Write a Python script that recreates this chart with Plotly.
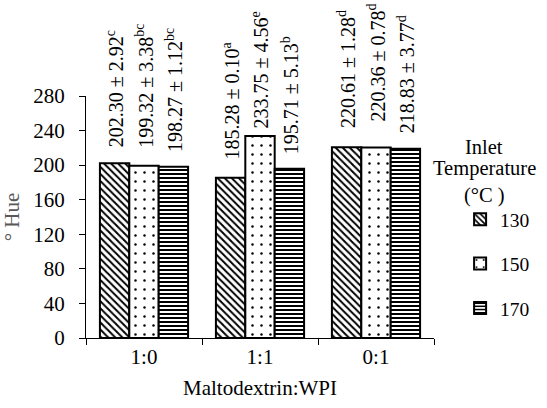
import plotly.graph_objects as go

categories = ["1:0", "1:1", "0:1"]
temperatures = ["130", "150", "170"]
hue_130 = [202.30, 185.28, 220.61]
hue_150 = [199.32, 233.75, 220.36]
hue_170 = [198.27, 195.71, 218.83]
sd_130 = [2.92, 0.10, 1.28]
sd_150 = [3.38, 4.56, 0.78]
sd_170 = [1.12, 5.13, 3.77]
letters_130 = ["c", "a", "d"]
letters_150 = ["bc", "e", "d"]
letters_170 = ["bc", "b", "d"]
legend_title_lines = ["Inlet", "Temperature", "(°C )"]

values = [hue_130, hue_150, hue_170]
sds = [sd_130, sd_150, sd_170]
letters = [letters_130, letters_150, letters_170]

# style: pattern per temperature, label pixel lift per bar
patterns = [dict(shape="\\", size=5, solidity=0.4),
            dict(shape=".", size=9, solidity=0.06),
            dict(shape="-", size=4, solidity=0.5)]
label_lift = [[14, 16, 17], [16, 5, 24], [13, 13, 14]]
legend_title_y = [0.79, 0.70, 0.59]

FONT = "Liberation Serif, Times New Roman, serif"
bargap = 0.24

fig = go.Figure()
for ti, t in enumerate(temperatures):
    p = patterns[ti]
    fig.add_trace(go.Bar(
        x=categories, y=values[ti], name=t, legendgroup=t,
        marker=dict(color="white", line=dict(color="black", width=2),
                    pattern=dict(shape=p["shape"], size=p["size"], solidity=p["solidity"],
                                 fgcolor="black", bgcolor="white", fgopacity=1,
                                 fillmode="overlay")),
    ))

bar_w = (1 - bargap) / 3
for ti in range(3):
    for ci in range(3):
        v = values[ti][ci]
        fig.add_annotation(
            x=ci + (ti - 1) * bar_w, y=v, xref="x", yref="y",
            text=f"{v:.2f} ± {sds[ti][ci]:.2f}<sup>{letters[ti][ci]}</sup>",
            textangle=-90, showarrow=False, yanchor="bottom", xanchor="center",
            yshift=label_lift[ti][ci], font=dict(family=FONT, size=20, color="black"),
        )

for line, ly in zip(legend_title_lines, legend_title_y):
    fig.add_annotation(
        x=1.144, y=ly, xref="paper", yref="paper", xanchor="center", yanchor="middle",
        text=line, showarrow=False, font=dict(family=FONT, size=20.5, color="black"),
    )

fig.update_layout(
    width=547, height=408,
    margin=dict(l=86, r=106, t=96, b=67),
    paper_bgcolor="white", plot_bgcolor="white",
    barmode="group", bargap=bargap, bargroupgap=0,
    font=dict(family=FONT, size=21, color="black"),
    showlegend=True,
    legend=dict(x=1.075, y=0.57, xanchor="left", yanchor="top",
                font=dict(family=FONT, size=19.5, color="black"),
                tracegroupgap=16, bgcolor="rgba(0,0,0,0)"),
    xaxis=dict(showline=True, linecolor="black", linewidth=1, ticks="outside",
               tickson="boundaries", ticklen=6, tickcolor="black",
               title=dict(text="Maltodextrin:WPI", font=dict(family=FONT, size=21), standoff=12),
               tickfont=dict(family=FONT, size=21)),
    yaxis=dict(range=[0, 280], dtick=40, showline=True, linecolor="black", linewidth=1,
               ticks="outside", ticklen=6, tickcolor="black", showgrid=False, zeroline=False,
               ticklabelstandoff=10,
               title=dict(text="° Hue", font=dict(family=FONT, size=21, color="#595959"), standoff=7),
               tickfont=dict(family=FONT, size=21)),
)

fig.write_html("out.html")
